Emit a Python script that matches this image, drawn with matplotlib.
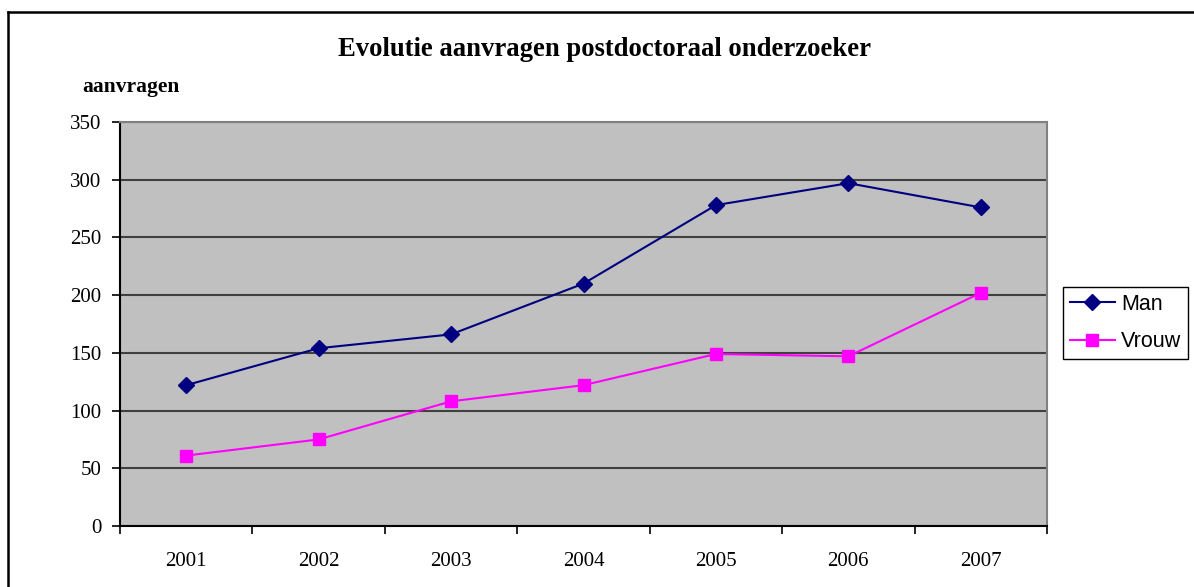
import matplotlib
matplotlib.use("Agg")
import matplotlib.pyplot as plt
from matplotlib.lines import Line2D

years = ["2001", "2002", "2003", "2004", "2005", "2006", "2007"]
man = [122, 154, 166, 210, 278, 297, 276]
vrouw = [61, 75, 108, 122, 149, 147, 202]
yticks = [0, 50, 100, 150, 200, 250, 300, 350]

W, H = 1194, 587
fig = plt.figure(figsize=(W / 100, H / 100), dpi=100)
serif = "Liberation Serif"
sans = "Liberation Sans"

# outer frame (cropped on right/bottom)
fig.add_artist(Line2D([8 / W, 1], [1 - 12 / H, 1 - 12 / H], color="black", lw=1.8, transform=fig.transFigure))
fig.add_artist(Line2D([8 / W, 8 / W], [0, 1 - 12 / H], color="black", lw=1.8, transform=fig.transFigure))

L, R, T, B = 120, 1047, 122, 526
ax = fig.add_axes([L / W, (H - B) / H, (R - L) / W, (B - T) / H])
ax.set_facecolor("#C0C0C0")
x = list(range(len(years)))
ax.plot(x, man, color="#000080", lw=1.5, marker="D", ms=8.5, label="Man")
ax.plot(x, vrouw, color="#FF00FF", lw=1.5, marker="s", ms=8, label="Vrouw")

ax.set_ylim(0, 350)
ax.set_xlim(-0.5, len(years) - 0.5)
ax.set_yticks(yticks)
ax.set_yticklabels([str(v) for v in yticks], fontfamily=serif, fontsize=15)
ax.yaxis.grid(True, color="#404040", lw=1.5)
ax.set_axisbelow(True)
ax.set_xticks([i - 0.5 for i in range(len(years) + 1)])
ax.set_xticklabels([])
ax.set_xticks(x, minor=True)
ax.set_xticklabels(years, minor=True, fontfamily=serif, fontsize=15)
ax.tick_params(axis="x", which="minor", length=0, pad=19)
ax.tick_params(axis="x", which="major", length=6, width=1.2, direction="out", color="black")
ax.tick_params(axis="y", length=6, width=1.2, direction="out", color="black", pad=7.5)
for s in ["top", "right"]:
    ax.spines[s].set_color("#808080")
    ax.spines[s].set_linewidth(1.5)
for s in ["left", "bottom"]:
    ax.spines[s].set_color("black")
    ax.spines[s].set_linewidth(1.5)

fig.text(605 / W, 1 - 49 / H, "Evolutie aanvragen postdoctoraal onderzoeker", ha="center", va="center",
         fontfamily=serif, fontweight="bold", fontsize=19.2)
fig.text(82 / W, 1 - 87 / H, "aanvragen", ha="left", va="center", fontfamily=serif, fontweight="bold", fontsize=15.5)

leg = fig.legend(loc="upper left", bbox_to_anchor=(1063 / W, 1 - 287 / H), prop={"family": sans, "size": 15.5},
                 frameon=True, fancybox=False, edgecolor="black", framealpha=1, borderpad=0.32,
                 handlelength=2.1, handletextpad=0.28, labelspacing=0.77, borderaxespad=0)
leg.get_frame().set_linewidth(1.0)

fig.savefig("out.png", dpi=100)
